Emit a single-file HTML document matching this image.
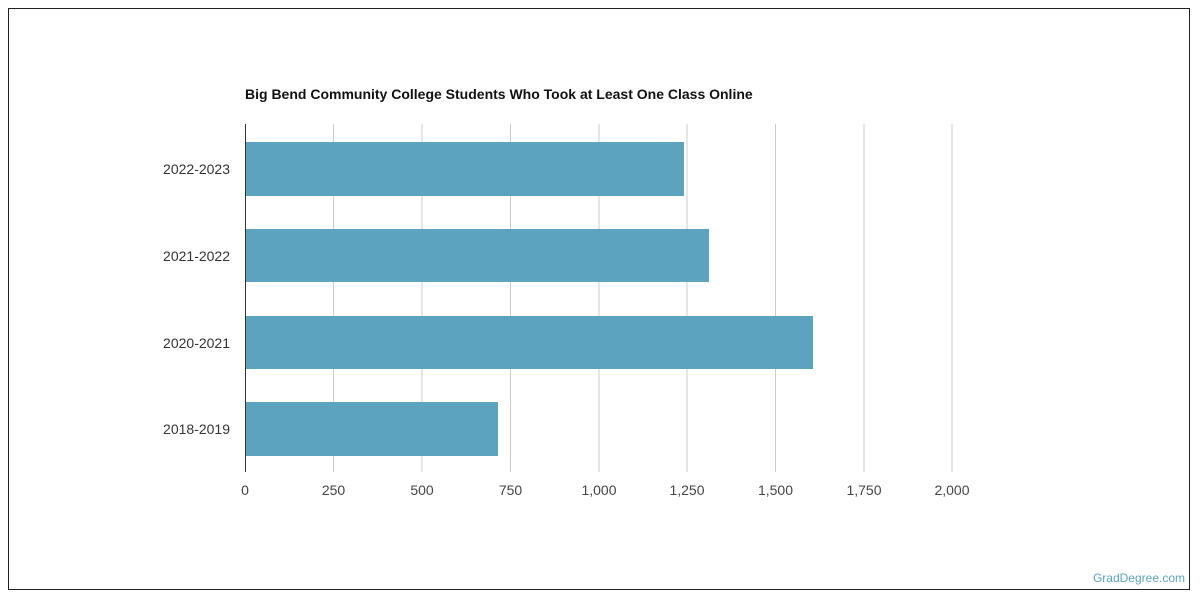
<!DOCTYPE html>
<html><head><style>
html,body{margin:0;padding:0;background:#fff;}
svg{display:block;font-family:"Liberation Sans",sans-serif;}
</style></head><body>
<svg width="1200" height="600" xmlns="http://www.w3.org/2000/svg">
<rect x="8.5" y="8.5" width="1181" height="581" fill="#fff" stroke="#222" stroke-width="1"/>
<text x="245" y="99" font-size="14" font-weight="bold" fill="#111">Big Bend Community College Students Who Took at Least One Class Online</text>
<g stroke="#ccc" stroke-width="1">
<line x1="333.5" y1="124" x2="333.5" y2="472"/>
<line x1="422" y1="124" x2="422" y2="472"/>
<line x1="510.5" y1="124" x2="510.5" y2="472"/>
<line x1="599" y1="124" x2="599" y2="472"/>
<line x1="687" y1="124" x2="687" y2="472"/>
<line x1="775.5" y1="124" x2="775.5" y2="472"/>
<line x1="864" y1="124" x2="864" y2="472"/>
<line x1="952" y1="124" x2="952" y2="472"/>
</g>
<g fill="#5ba3bf">
<rect x="245" y="142" width="439" height="54"/>
<rect x="245" y="229" width="464" height="53"/>
<rect x="245" y="316" width="568" height="53"/>
<rect x="245" y="402" width="253" height="54"/>
</g>
<line x1="245.5" y1="124" x2="245.5" y2="472" stroke="#333" stroke-width="1"/>
<g font-size="14" fill="#333" text-anchor="end">
<text x="230" y="174">2022-2023</text>
<text x="230" y="261">2021-2022</text>
<text x="230" y="348">2020-2021</text>
<text x="230" y="434">2018-2019</text>
</g>
<g font-size="14" fill="#444" text-anchor="middle">
<text x="245" y="495">0</text>
<text x="333.5" y="495">250</text>
<text x="422" y="495">500</text>
<text x="510.5" y="495">750</text>
<text x="599" y="495">1,000</text>
<text x="687" y="495">1,250</text>
<text x="775.5" y="495">1,500</text>
<text x="864" y="495">1,750</text>
<text x="952" y="495">2,000</text>
</g>
<text x="1185" y="582" font-size="12" fill="#5ba3bf" text-anchor="end">GradDegree.com</text>
</svg>
</body></html>
